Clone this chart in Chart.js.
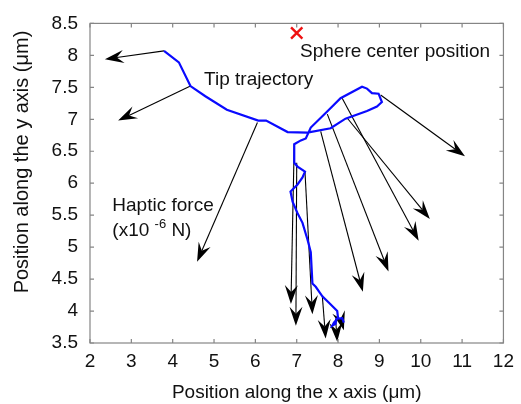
<!DOCTYPE html>
<html><head><meta charset="utf-8">
<script src="https://cdn.jsdelivr.net/npm/chart.js@4/dist/chart.umd.min.js"></script>
<style>html,body{margin:0;padding:0;background:#fff;overflow:hidden}#wrap{position:relative;width:521px;height:404px}</style>
</head><body><div id="wrap"><canvas id="c" width="521" height="404"></canvas></div>
<script>
const xTicks = [2,3,4,5,6,7,8,9,10,11,12];
const yTicks = [3.5,4,4.5,5,5.5,6,6.5,7,7.5,8,8.5];
const trajX = [3.79,4.15,4.43,4.79,5.31,6.07,6.26,6.78,7.26,7.82,8.18,8.70,8.94,9.06,8.98,8.82,8.70,8.58,8.06,7.78,7.34,7.22,7.10,6.94,6.94,7.02,7.20,7.14,7.02,6.85,6.90,7.02,7.14,7.26,7.30,7.34,7.38,7.46,7.62,7.78,7.98,8.00,7.90,7.86,7.94,7.96,8.10,8.14];
const trajY = [8.07,7.89,7.52,7.36,7.15,6.98,6.98,6.80,6.79,6.86,7.01,7.13,7.20,7.27,7.40,7.41,7.48,7.51,7.33,7.15,6.87,6.70,6.67,6.61,6.32,6.26,6.18,6.09,5.98,5.87,5.71,5.53,5.38,5.12,5.02,4.92,4.43,4.38,4.23,4.13,4.00,3.89,3.82,3.77,3.80,3.88,3.89,3.82];
const forceStartX = [3.79,4.43,6.05,6.94,7.00,7.20,7.62,7.94,8.06,7.58,7.74,8.10,8.22,9.03];
const forceStartY = [8.07,7.52,6.95,6.61,6.32,6.18,4.23,3.88,3.88,6.81,7.08,7.33,7.02,7.38];
const forceEndX   = [2.36,2.68,4.59,6.86,6.98,7.38,7.70,7.98,8.14,8.60,9.22,9.95,10.22,11.07];
const forceEndY   = [7.94,6.98,4.77,4.11,3.77,3.95,3.57,3.52,3.70,4.30,4.62,5.10,5.44,6.42];
const sphereX = [7.0];
const sphereY = [8.35];
const noteText = ["Sphere center position","Tip trajectory","Haptic force"];
const noteX = [7.08,4.76,2.54];
const noteY = [7.98,7.54,5.57];
const xTitle = 'Position along the x axis (μm)';
const yTitle = 'Position along the y axis (μm)';

const FONT = '"Liberation Sans", Arial, sans-serif';

function drawArrow(ctx, sx, sy, ex, ey){
  const dx = ex-sx, dy = ey-sy, len = Math.hypot(dx,dy);
  const ux = dx/len, uy = dy/len, nx = -uy, ny = ux;
  const L = 19, W = 6.5, ind = 7;
  ctx.beginPath();
  ctx.moveTo(sx,sy);
  ctx.lineTo(ex-ux*(L-ind), ey-uy*(L-ind));
  ctx.stroke();
  ctx.beginPath();
  ctx.moveTo(ex,ey);
  ctx.lineTo(ex-ux*L+nx*W, ey-uy*L+ny*W);
  ctx.lineTo(ex-ux*(L-ind), ey-uy*(L-ind));
  ctx.lineTo(ex-ux*L-nx*W, ey-uy*L-ny*W);
  ctx.closePath();
  ctx.fill();
}

const overlay = {
  id:'overlay',
  beforeDatasetsDraw(chart){
    const {ctx, scales:{x,y}} = chart;
    ctx.save();
    ctx.strokeStyle = '#000'; ctx.fillStyle = '#000'; ctx.lineWidth = 1.1;
    for (let i=0;i<forceStartX.length;i++){
      drawArrow(ctx, x.getPixelForValue(forceStartX[i]), y.getPixelForValue(forceStartY[i]),
                     x.getPixelForValue(forceEndX[i]), y.getPixelForValue(forceEndY[i]));
    }
    ctx.restore();
  },
  afterDraw(chart){
    const {ctx, chartArea:a, scales:{x,y}} = chart;
    ctx.save();
    ctx.strokeStyle = '#858585'; ctx.lineWidth = 1.2;
    ctx.strokeRect(a.left, a.top, a.right-a.left, a.bottom-a.top);
    ctx.beginPath();
    x.ticks.forEach(t=>{ const p = x.getPixelForValue(t.value);
      ctx.moveTo(p,a.bottom); ctx.lineTo(p,a.bottom-4); ctx.moveTo(p,a.top); ctx.lineTo(p,a.top+4); });
    y.ticks.forEach(t=>{ const p = y.getPixelForValue(t.value);
      ctx.moveTo(a.left,p); ctx.lineTo(a.left+4,p); ctx.moveTo(a.right,p); ctx.lineTo(a.right-4,p); });
    ctx.stroke();
    // y title
    ctx.fillStyle = '#111';
    ctx.save();
    ctx.translate(22, 162);
    ctx.rotate(-Math.PI/2);
    ctx.font = '20px ' + FONT;
    ctx.textAlign = 'center'; ctx.textBaseline = 'middle';
    ctx.fillText(yTitle, 0, 0);
    ctx.restore();
    // notes
    ctx.font = '19px ' + FONT;
    ctx.textBaseline = 'alphabetic';
    for (let i=0;i<noteText.length;i++){
      ctx.fillText(noteText[i], x.getPixelForValue(noteX[i]), y.getPixelForValue(noteY[i]));
    }
    // (x10 -6 N)
    let px = x.getPixelForValue(2.54), py = y.getPixelForValue(5.18);
    const p1 = '(x10 ';
    ctx.fillText(p1, px, py); px += ctx.measureText(p1).width;
    ctx.font = '13px ' + FONT;
    ctx.fillText('-6', px, py-8); px += ctx.measureText('-6').width;
    ctx.font = '19px ' + FONT;
    ctx.fillText(' N)', px, py);
    ctx.restore();
  }
};

new Chart(document.getElementById('c'), {
  type:'scatter',
  data:{ datasets:[
    { data: trajX.map((v,i)=>({x:v,y:trajY[i]})), showLine:true, borderColor:'#0a0aff', borderWidth:2.2,
      pointRadius:0, fill:false, tension:0 },
    { data: sphereX.map((v,i)=>({x:v,y:sphereY[i]})), pointStyle:'crossRot', pointRadius:8,
      borderColor:'#ee1111', borderWidth:2.4, showLine:false }
  ]},
  options:{
    responsive:false, animation:false, events:[],
    layout:{ padding:{ top:15, right:13, left:0, bottom:0 } },
    plugins:{ legend:{display:false}, tooltip:{enabled:false} },
    scales:{
      x:{ type:'linear', min:2, max:12,
        afterBuildTicks: s => { s.ticks = xTicks.map(v=>({value:v})); },
        afterFit: s => { s.height = 61; },
        grid:{ display:false, drawTicks:false }, border:{display:false},
        ticks:{ color:'#111', font:{family:FONT, size:19}, padding:7, maxRotation:0, autoSkip:false,
                callback: v => String(v) },
        title:{ display:true, text:xTitle, color:'#111', font:{family:FONT, size:19}, padding:{top:0,bottom:0} } },
      y:{ type:'linear', min:3.5, max:8.5,
        afterBuildTicks: s => { s.ticks = yTicks.map(v=>({value:v})); },
        afterFit: s => { s.width = 90; },
        grid:{ display:false, drawTicks:false }, border:{display:false},
        ticks:{ color:'#111', font:{family:FONT, size:19}, padding:12, autoSkip:false,
                callback: v => String(v) },
        title:{ display:false } }
    }
  },
  plugins:[overlay]
});
</script></body></html>
